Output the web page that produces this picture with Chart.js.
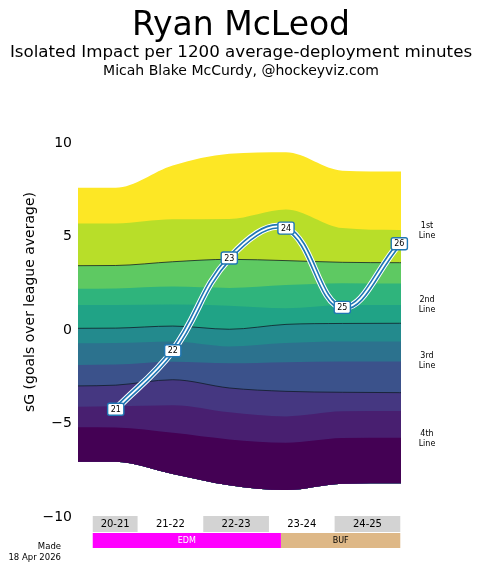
<!DOCTYPE html>
<html>
<head>
<meta charset="utf-8">
<script src="https://cdn.jsdelivr.net/npm/chart.js@4"></script>
<style>
  html, body { margin: 0; padding: 0; background: #fff; }
  #chart { display: block; }
</style>
</head>
<body>
<canvas id="chart" width="482" height="572"></canvas>
<script>
// =============================
// DATA
// =============================
const seasons = ['20-21', '21-22', '22-23', '23-24', '24-25'];
const seasonGames = [56, 82, 82, 82, 82];
const teams = ['EDM', 'BUF'];
const teamGames = [235, 149];

const pointLabels = ['21', '22', '23', '24', '25', '26'];
const pointGames = [28.7, 99.9, 170.5, 241.3, 311.6, 382.8];
const impact = [-4.24, -1.11, 3.85, 5.45, 1.21, 4.61];

// band edges, top to bottom, sampled at bandGames
const bandGames = [-18.4, 28.7, 99.9, 170.5, 241.3, 311.6, 382.8, 384.9];
const edge0  = [7.61, 7.61, 8.80, 9.42, 9.50, 8.52, 8.48, 8.48];
const edge1  = [5.70, 5.70, 5.92, 5.94, 6.45, 5.45, 5.35, 5.35];
const edge2  = [3.44, 3.45, 3.65, 3.78, 3.71, 3.62, 3.60, 3.60];
const edge3  = [2.21, 2.22, 2.32, 2.25, 2.40, 2.50, 2.48, 2.48];
const edge4  = [1.34, 1.34, 1.36, 1.30, 1.16, 1.34, 1.34, 1.34];
const edge5  = [0.09, 0.10, 0.21, 0.04, 0.30, 0.35, 0.36, 0.36];
const edge6  = [-0.71, -0.70, -0.62, -0.88, -0.70, -0.62, -0.62, -0.62];
const edge7  = [-1.87, -1.85, -1.70, -1.78, -1.72, -1.69, -1.69, -1.69];
const edge8  = [-2.99, -2.95, -2.66, -3.10, -3.28, -3.33, -3.35, -3.35];
const edge9  = [-4.10, -4.08, -4.02, -4.40, -4.62, -4.35, -4.33, -4.33];
const edge10 = [-5.20, -5.22, -5.50, -5.85, -6.03, -5.78, -5.76, -5.76];
const edge11 = [-7.04, -7.05, -7.70, -8.30, -8.56, -8.22, -8.20, -8.20];

const lineNames = ['1st', '2nd', '3rd', '4th'];
const lineNameY = [5.3, 1.35, -1.65, -5.8];
const yTicks = [-10, -5, 0, 5, 10];

// =============================
// STYLE
// =============================
const FONT = "'DejaVu Sans', sans-serif";
const bandColors = ['#fde725', '#b8de29', '#5ec962', '#2fb47c', '#20a386', '#238a8d',
                    '#2c728e', '#3b528b', '#453781', '#481f70', '#440154'];
const dividers = [2, 5, 8];

const edges = [edge0, edge1, edge2, edge3, edge4, edge5, edge6, edge7, edge8, edge9, edge10, edge11];
const lastEdge = edges.length - 1;

const bandSets = edges.map((e, i) => ({
  data: e.map((v, k) => ({ x: bandGames[k], y: v })),
  borderColor: dividers.includes(i) ? 'rgba(15,25,35,0.85)' : 'rgba(0,0,0,0)',
  borderWidth: dividers.includes(i) ? 0.9 : 0,
  backgroundColor: bandColors[i] || 'rgba(0,0,0,0)',
  fill: i < lastEdge ? lastEdge : false,
  cubicInterpolationMode: 'monotone',
  pointRadius: 0,
  order: 100 - i
}));

const curve = pointGames.map((g, k) => ({ x: g, y: impact[k] }));
const lineSet = (color, width, order) => ({
  data: curve,
  borderColor: color,
  borderWidth: width,
  fill: false,
  tension: 0.4,
  pointRadius: 0,
  order
});

// =============================
// DECORATION PLUGIN
// =============================
const decorations = {
  id: 'decorations',
  afterDatasetsDraw(chart) {
    const ctx = chart.ctx;
    const meta = chart.getDatasetMeta(bandSets.length + 1);
    ctx.save();
    ctx.font = `8px ${FONT}`;
    ctx.textAlign = 'center';
    ctx.textBaseline = 'middle';
    meta.data.forEach((pt, k) => {
      const w = ctx.measureText(pointLabels[k]).width + 6;
      const h = 12;
      ctx.beginPath();
      ctx.roundRect(pt.x - w / 2, pt.y - h / 2, w, h, 2);
      ctx.fillStyle = '#fff';
      ctx.fill();
      ctx.lineWidth = 1.4;
      ctx.strokeStyle = '#1f77b4';
      ctx.stroke();
      ctx.fillStyle = '#000';
      ctx.fillText(pointLabels[k], pt.x, pt.y + 0.5);
    });
    ctx.restore();
  },
  afterDraw(chart) {
    const { ctx, chartArea, scales } = chart;
    const xs = scales.x, ys = scales.y;
    ctx.save();
    ctx.fillStyle = '#000';
    ctx.textAlign = 'center';
    ctx.textBaseline = 'alphabetic';
    ctx.font = `33px ${FONT}`;
    ctx.fillText('Ryan McLeod', 241, 35);
    ctx.font = `16.7px ${FONT}`;
    ctx.fillText('Isolated Impact per 1200 average-deployment minutes', 241, 57);
    ctx.font = `14px ${FONT}`;
    ctx.fillText('Micah Blake McCurdy, @hockeyviz.com', 241, 75);

    // y title
    ctx.save();
    ctx.translate(30, 302);
    ctx.rotate(-Math.PI / 2);
    ctx.textBaseline = 'middle';
    ctx.font = `14px ${FONT}`;
    ctx.fillText('sG (goals over league average)', 0, 0);
    ctx.restore();

    // line names on the right
    ctx.font = `8px ${FONT}`;
    ctx.textBaseline = 'middle';
    lineNames.forEach((n, k) => {
      const y = ys.getPixelForValue(lineNameY[k]);
      ctx.fillText(n, chartArea.right + 26, y - 5);
      ctx.fillText('Line', chartArea.right + 26, y + 5);
    });

    // season strip
    let g = 0;
    ctx.font = `10px ${FONT}`;
    seasons.forEach((s, k) => {
      const x0 = xs.getPixelForValue(g);
      const x1 = xs.getPixelForValue(g + seasonGames[k]);
      if (k % 2 === 0) {
        ctx.fillStyle = '#d3d3d3';
        ctx.fillRect(x0, 516, x1 - x0, 16);
      }
      ctx.fillStyle = '#000';
      ctx.fillText(s, (x0 + x1) / 2, 524.5);
      g += seasonGames[k];
    });

    // team strip
    g = 0;
    ctx.font = `8px ${FONT}`;
    const teamFill = ['#ff00ff', '#deb887'];
    const teamText = ['#fff', '#000'];
    teams.forEach((t, k) => {
      const x0 = xs.getPixelForValue(g);
      const x1 = xs.getPixelForValue(g + teamGames[k]);
      ctx.fillStyle = teamFill[k];
      ctx.fillRect(x0, 533, x1 - x0, 15);
      ctx.fillStyle = teamText[k];
      ctx.fillText(t, (x0 + x1) / 2, 541);
      g += teamGames[k];
    });

    // made stamp
    ctx.fillStyle = '#000';
    ctx.textAlign = 'right';
    ctx.font = `8.5px ${FONT}`;
    ctx.fillText('Made', 61, 547);
    ctx.fillText('18 Apr 2026', 61, 558);
    ctx.restore();
  }
};

// =============================
// CHART
// =============================
new Chart(document.getElementById('chart'), {
  type: 'line',
  data: {
    datasets: [
      ...bandSets,
      lineSet('#ffffff', 7, 3),
      lineSet('#1f77b4', 5, 2),
      lineSet('#ffffff', 1.8, 1)
    ]
  },
  options: {
    responsive: false,
    animation: false,
    layout: { padding: { left: 0, right: 81, top: 143, bottom: 55 } },
    plugins: {
      legend: { display: false },
      tooltip: { enabled: false }
    },
    scales: {
      x: {
        type: 'linear',
        display: false,
        min: bandGames[0],
        max: bandGames[bandGames.length - 1]
      },
      y: {
        min: -10,
        max: 10,
        afterBuildTicks: s => { s.ticks = yTicks.map(v => ({ value: v })); },
        afterFit: s => { s.width = 78; },
        grid: { display: false, drawTicks: false },
        border: { display: false },
        ticks: {
          padding: 6,
          color: '#000',
          font: { family: FONT, size: 14 },
          callback: v => (v < 0 ? '\u2212' + Math.abs(v) : String(v))
        }
      }
    }
  },
  plugins: [decorations]
});
</script>
</body>
</html>
